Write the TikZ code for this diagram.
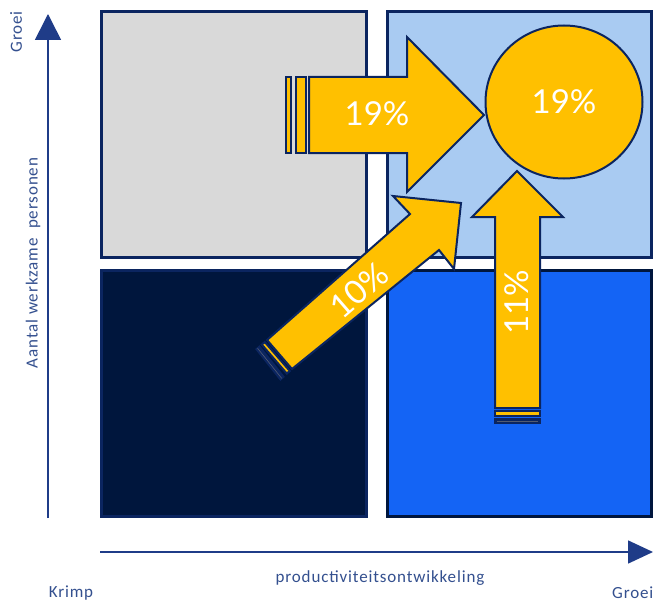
\documentclass[tikz,border=0pt]{standalone}
\usepackage{fontspec}
\setmainfont{Carlito}
\newfontfamily\latof{Lato}
\usetikzlibrary{arrows.meta,shapes.geometric}
\definecolor{navyb}{HTML}{0B2560}
\definecolor{axisc}{HTML}{1F3C88}
\definecolor{txtc}{HTML}{34508F}
\definecolor{qgray}{HTML}{D9D9D9}
\definecolor{qlight}{HTML}{A9CBF2}
\definecolor{qdark}{HTML}{00163D}
\definecolor{qblue}{HTML}{1464F5}
\definecolor{yel}{HTML}{FFC000}
\begin{document}
\begin{tikzpicture}[x=1pt,y=-1pt,
  quad/.style={draw=navyb, line width=3pt, inner sep=0pt, outer sep=0pt},
  arr/.style={draw=navyb, fill=yel, line width=2pt, line join=miter},
  stripe/.style={draw=navyb, fill=yel, line width=2pt},
  axisline/.style={draw=axisc, line width=1.6pt},
  lbl/.style={text=txtc, inner sep=0pt, font=\fontsize{17}{19}\selectfont\addfontfeature{LetterSpace=5}},
  pct/.style={text=white, inner sep=0pt, font=\latof\fontsize{33}{36}\selectfont}]
\useasboundingbox (0,0) rectangle (654,602);
\fill[white] (0,0) rectangle (654,602);
% quadrants
\node[quad, fill=qgray, minimum width=265pt, minimum height=246pt] (qtl) at (234,134.5) {};
\node[quad, fill=qlight, minimum width=264pt, minimum height=246pt] (qtr) at (519.5,134.5) {};
\node[quad, fill=qdark, minimum width=265pt, minimum height=246pt] (qbl) at (234,393.5) {};
\node[quad, fill=qblue, draw=qdark, minimum width=264pt, minimum height=246pt] (qbr) at (519.5,393.5) {};
% axes
\coordinate (ya) at (48,518);
\coordinate (yb) at (48,14);
\coordinate (xa) at (100,552);
\coordinate (xb) at (653,552);
\draw[axisline, -{Triangle[length=26pt,width=26pt]}] (ya) -- (yb);
\draw[axisline, -{Triangle[length=25pt,width=23pt]}] (xa) -- (xb);
% axis labels
\node[lbl, rotate=90] (groeiy) at (16,32) {Groei};
\node[lbl, rotate=90] (ylab) at (33,263) {Aantal werkzame\ \ personen};
\node[lbl] (krimp) at (71,593) {Krimp};
\node[lbl] (prod) at (380,578) {productiviteitsontwikkeling};
\node[lbl, anchor=west] (groeix) at (612,593) {Groei};
% diagonal arrow 10%
\draw[stripe, fill=navyb, draw=navyb] (259.5,346.6) -- (256.5,349.2) -- (280.5,379.5) -- (283.5,376.8) -- cycle;
\draw[gray!60!navyb, line width=0.6pt] (257.5,348.2) -- (281.8,378.4);
\draw[stripe] (264.8,342.0) -- (261.8,344.6) -- (286.8,373.6) -- (289.8,371.0) -- cycle;
\draw[arr] (267,340) -- (410,214) -- (393,196) -- (461,203) -- (454,269) -- (439,250) -- (292,369) -- cycle;
\node[pct, rotate=41] (p10) at (359,290) {10\%};
% right arrow 19%
\draw[stripe] (286,77) rectangle (291,153);
\draw[stripe] (296,77) rectangle (306,153);
\draw[arr] (309,77) -- (407,77) -- (407,37) -- (484,115) -- (407,192) -- (407,153) -- (309,153) -- cycle;
\node[pct] (p19a) at (377,114) {19\%};
% circle
\node[draw=navyb, fill=yel, line width=2pt, ellipse, minimum width=157pt, minimum height=153pt, inner sep=0pt] (c19) at (564,102) {};
\node[pct] (p19b) at (564,102) {19\%};
% up arrow 11%
\draw[stripe, fill=navyb] (495,419) rectangle (540,423);
\draw[gray!60!navyb, line width=0.6pt] (497,421) -- (538,421);
\draw[stripe] (495,411) rectangle (540,416);
\draw[arr] (495,408) -- (495,217) -- (472,217) -- (517,171) -- (563,217) -- (540,217) -- (540,408) -- cycle;
\node[pct, rotate=90] (p11) at (517,302) {11\%};
\end{tikzpicture}
\end{document}
